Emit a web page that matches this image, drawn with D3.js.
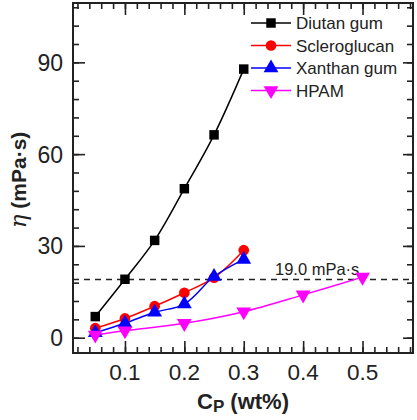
<!DOCTYPE html>
<html><head><meta charset="utf-8">
<script src="https://cdn.jsdelivr.net/npm/d3@7"></script>
<style>body{margin:0;background:#fff}svg{display:block}text{font-family:"Liberation Sans",Arial,sans-serif}</style>
</head><body><div id="c"></div>
<script>
const xDiutan = [0.05,0.1,0.15,0.2,0.25,0.3];
const yDiutan = [6.9,19.1,31.8,48.7,66.3,87.8];
const xSclero = [0.05,0.1,0.15,0.2,0.25,0.3];
const ySclero = [3.1,6.3,10.3,14.7,19.6,28.6];
const xXanthan = [0.05,0.1,0.15,0.2,0.25,0.3];
const yXanthan = [1.6,4.7,8.3,11.0,20.0,25.6];
const xHPAM = [0.05,0.1,0.2,0.3,0.4,0.5];
const yHPAM = [0.9,2.3,4.7,8.5,14.0,19.8];
const seriesNames = ["Diutan gum","Scleroglucan","Xanthan gum","HPAM"];
const xTicks = [0.1,0.2,0.3,0.4,0.5];
const yTicks = [0,30,60,90];
const refValue = 19.0;
const refLabel = "19.0 mPa·s";

const W=417,H=420;
const L=73,R=413,T=3,B=353;
const svg=d3.select("#c").append("svg").attr("width",W).attr("height",H);
const x=d3.scaleLinear().domain([0.0125,0.585]).range([L,R]);
const y=d3.scaleLinear().domain([-5,109.4]).range([B,T]);

const minorX=d3.range(0.02,0.581,0.02);
const minorY=d3.range(-6,109,6).filter(v=>v>=-5);

function mkAxis(gen,scale,vals,len,transform){
  const a=gen(scale).tickValues(vals).tickSize(len).tickFormat("");
  const g=svg.append("g").attr("transform",transform).call(a);
  g.select(".domain").remove();
  g.selectAll("line").attr("stroke","#222").attr("stroke-width",1.6);
}
const majX=xTicks, majY=yTicks;
mkAxis(d3.axisTop,x,minorX,6,`translate(0,${B})`);
mkAxis(d3.axisTop,x,majX,12,`translate(0,${B})`);
mkAxis(d3.axisBottom,x,minorX,6,`translate(0,${T})`);
mkAxis(d3.axisBottom,x,majX,12,`translate(0,${T})`);
mkAxis(d3.axisRight,y,minorY,6,`translate(${L},0)`);
mkAxis(d3.axisRight,y,majY,12,`translate(${L},0)`);
mkAxis(d3.axisLeft,y,minorY,6,`translate(${R},0)`);
mkAxis(d3.axisLeft,y,majY,10,`translate(${R},0)`);

svg.append("rect").attr("x",L).attr("y",T).attr("width",R-L).attr("height",B-T)
  .attr("fill","none").attr("stroke","#222").attr("stroke-width",2);

svg.append("g").selectAll("text").data(xTicks).join("text")
  .attr("x",d=>x(d)).attr("y",380).attr("text-anchor","middle")
  .attr("font-size",22.5).attr("fill","#222").text(d=>d.toFixed(1));
svg.append("g").selectAll("text").data(yTicks).join("text")
  .attr("x",63).attr("y",d=>y(d)+8.5).attr("text-anchor","end")
  .attr("font-size",23).attr("fill","#222").text(d=>d);

const xt=svg.append("text").attr("x",243).attr("y",409).attr("text-anchor","middle")
  .attr("font-weight","bold").attr("font-size",22).attr("fill","#222");
xt.append("tspan").text("C");
xt.append("tspan").attr("font-size",17).attr("dy",3).text("P");
xt.append("tspan").attr("dy",-3).text(" (wt%)");

const yt=svg.append("text").attr("transform","translate(26,180) rotate(-90)")
  .attr("text-anchor","middle").attr("font-size",21).attr("fill","#222");
yt.append("tspan").attr("font-style","italic").attr("font-family","'DejaVu Serif',serif").attr("font-size",23).text("η");
yt.append("tspan").attr("font-weight","bold").text(" (mPa·s)");

svg.append("line").attr("x1",L).attr("x2",R).attr("y1",y(refValue)).attr("y2",y(refValue))
  .attr("stroke","#222").attr("stroke-width",1.4).attr("stroke-dasharray","6,5");
svg.append("text").attr("x",275).attr("y",y(refValue)-5).attr("font-size",16.5)
  .attr("fill","#222").text(refLabel);

const colors=["#000000","#ff0000","#0000ff","#ff00ff"];
const xs=[xDiutan,xSclero,xXanthan,xHPAM];
const ys=[yDiutan,ySclero,yXanthan,yHPAM];
const symbols=[d3.symbolSquare,d3.symbolCircle,d3.symbolTriangle,d3.symbolTriangle];
const symSize=[90,90,95,95];
const rot=[0,0,0,180];
const line=d3.line().x(d=>x(d[0])).y(d=>y(d[1])).curve(d3.curveCatmullRom);

seriesNames.forEach((n,i)=>{
  const pts=xs[i].map((v,j)=>[v,ys[i][j]]);
  svg.append("path").datum(pts).attr("d",line).attr("fill","none")
    .attr("stroke",colors[i]).attr("stroke-width",1.5);
});
seriesNames.forEach((n,i)=>{
  const pts=xs[i].map((v,j)=>[v,ys[i][j]]);
  svg.append("g").selectAll("path").data(pts).join("path")
    .attr("d",d3.symbol(symbols[i],symSize[i]))
    .attr("transform",d=>`translate(${x(d[0])},${y(d[1])}) rotate(${rot[i]})`)
    .attr("fill",colors[i]);
});

const lg=svg.append("g");
seriesNames.forEach((n,i)=>{
  const yy=23+i*22.5;
  lg.append("line").attr("x1",251).attr("x2",291).attr("y1",yy).attr("y2",yy)
    .attr("stroke",colors[i]).attr("stroke-width",1.5);
  lg.append("path").attr("d",d3.symbol(symbols[i],symSize[i]))
    .attr("transform",`translate(271,${yy}) rotate(${rot[i]})`).attr("fill",colors[i]);
  lg.append("text").attr("x",296).attr("y",yy+6).attr("font-size",17)
    .attr("fill","#222").text(n);
});
</script></body></html>
